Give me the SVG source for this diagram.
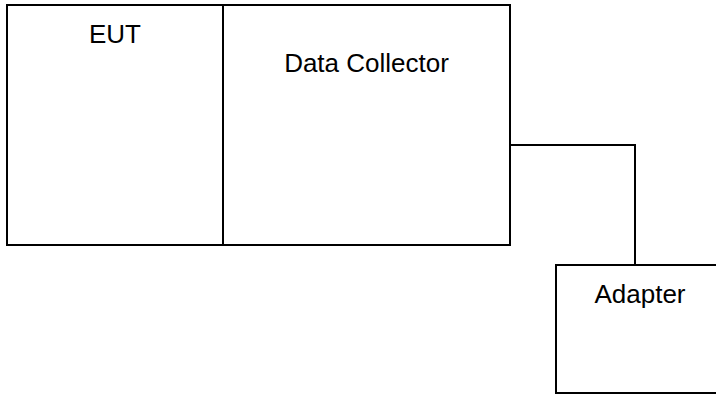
<svg xmlns="http://www.w3.org/2000/svg" width="716" height="394" viewBox="0 0 716 394">
<style>
.box{fill:#fff;stroke:#000;stroke-width:2}
.lbl{font-family:"Liberation Sans",Arial,sans-serif;font-size:26px;fill:#000;text-anchor:middle}
.wire{fill:none;stroke:#000;stroke-width:2}
</style>
<rect width="716" height="394" fill="#fff"/>
<g id="connectors">
<path class="wire" d="M510 145 H635 V265"/>
</g>
<g id="eut">
<rect class="box" x="7" y="5" width="216" height="240"/>
<text class="lbl" x="115" y="43">EUT</text>
</g>
<g id="data-collector">
<rect class="box" x="223" y="5" width="287" height="240"/>
<text class="lbl" x="366.5" y="72">Data Collector</text>
</g>
<g id="adapter">
<rect class="box" x="556" y="265" width="168" height="128"/>
<text class="lbl" x="640" y="303">Adapter</text>
</g>
</svg>
